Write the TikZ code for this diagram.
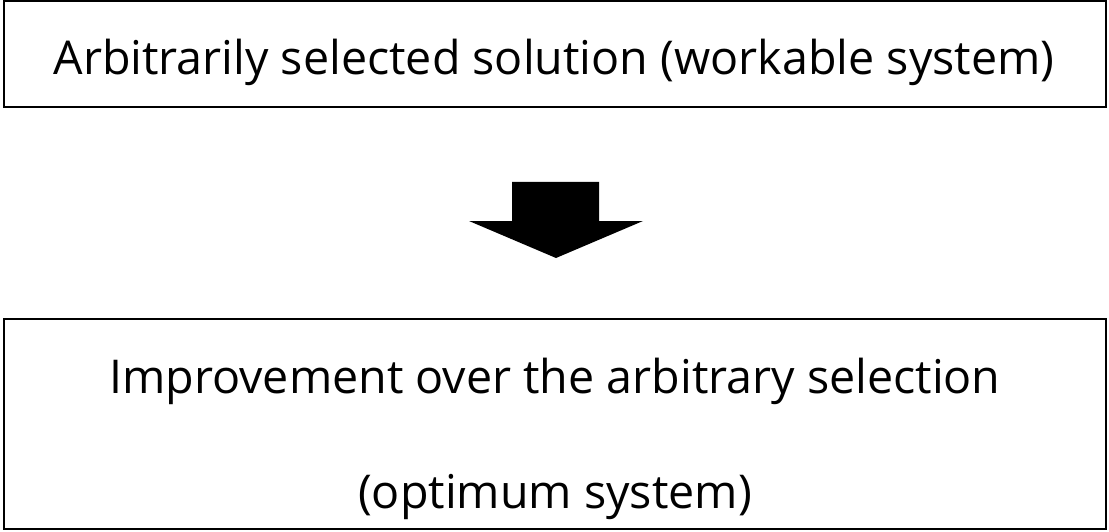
\documentclass[tikz,border=0pt]{standalone}
\usepackage{fontspec}
\setmainfont{Open Sans}
\begin{document}
\begin{tikzpicture}[x=1pt,y=-1pt,
  framebox/.style={draw=black,line width=2.2pt,inner sep=0pt,fill=white},
  label/.style={anchor=base,inner sep=0pt,font=\fontsize{46.6}{56}\selectfont},
  bigarrow/.style={fill=black,draw=none}]
\useasboundingbox (0,0) rectangle (1109,532);
\node[framebox,minimum width=1102pt,minimum height=106pt] (top) at (555,54) {};
\node[framebox,minimum width=1102pt,minimum height=210pt] (bottom) at (555,424) {};
\node[label] (t1) at (554,75) {Arbitrarily selected solution (workable system)};
\node[label] (t2) at (555,393) {Improvement over the arbitrary selection};
\node[label] (t3) at (555,508) {(optimum system)};
\fill[bigarrow] (512,182) -- (599,182) -- (599,221) -- (643,221) -- (556,258) -- (469,221) -- (512,221) -- cycle;
\end{tikzpicture}
\end{document}
